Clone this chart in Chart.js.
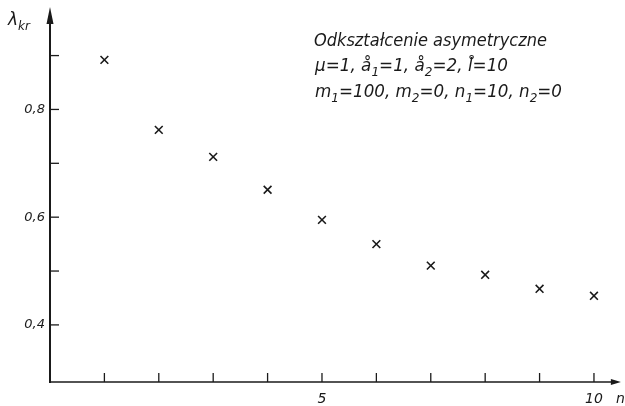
<!DOCTYPE html>
<html><head><meta charset="utf-8">
<script src="https://cdn.jsdelivr.net/npm/chart.js@4/dist/chart.umd.min.js"></script>
<style>html,body{margin:0;padding:0;background:#fff;}#wrap{width:625px;height:406px;}</style>
</head><body><div id="wrap"><canvas id="c" width="625" height="406"></canvas></div>
<script>
// ---- data ----
const nValues = [1, 2, 3, 4, 5, 6, 7, 8, 9, 10];
const lambdaKr = [0.892, 0.762, 0.712, 0.651, 0.595, 0.550, 0.510, 0.493, 0.467, 0.454];
const yTickValues = [0.4, 0.5, 0.6, 0.7, 0.8, 0.9];
const yTickLabels = ['0,4', '', '0,6', '', '0,8', ''];
const xTickValues = [1, 2, 3, 4, 5, 6, 7, 8, 9, 10];
const xTickLabels = ['', '', '', '', '5', '', '', '', '', '10'];
const yTitleMain = 'λ';
const yTitleSub = 'kr';
const xTitle = 'n';
const noteLines = [
  [['Odkształcenie asymetryczne', 0]],
  [['μ=1, å', 0], ['1', 1], ['=1, å', 0], ['2', 1], ['=2, l̊=10', 0]],
  [['m', 0], ['1', 1], ['=100, m', 0], ['2', 1], ['=0, n', 0], ['1', 1], ['=10, n', 0], ['2', 1], ['=0', 0]]
];

const FAM = "'DejaVu Sans', 'Liberation Sans', sans-serif";
const INK = '#1a1a1a';

function drawRich(ctx, runs, x, y, size, targetW) {
  const subSize = Math.round(size * 0.72);
  let total = 0;
  const widths = runs.map(([t, sub]) => {
    ctx.font = 'italic ' + (sub ? subSize : size) + 'px ' + FAM;
    const w = ctx.measureText(t).width; total += w; return w;
  });
  const sx = targetW ? targetW / total : 1;
  ctx.save();
  ctx.translate(x, y);
  ctx.scale(sx, 1);
  let cx = 0;
  runs.forEach(([t, sub], i) => {
    ctx.font = 'italic ' + (sub ? subSize : size) + 'px ' + FAM;
    ctx.fillText(t, cx, sub ? size * 0.28 : 0);
    cx += widths[i];
  });
  ctx.restore();
}

const axesPlugin = {
  id: 'axesPlugin',
  afterDraw(chart) {
    const ctx = chart.ctx;
    const xs = chart.scales.x, ys = chart.scales.y;
    const x0 = xs.getPixelForValue(0);
    const yb = ys.getPixelForValue(ys.min);
    const yt = ys.getPixelForValue(ys.max);
    const xr = xs.getPixelForValue(xs.max);
    ctx.save();
    ctx.strokeStyle = INK; ctx.fillStyle = INK;
    // y axis
    ctx.lineWidth = 2;
    ctx.beginPath(); ctx.moveTo(x0, yb + 1); ctx.lineTo(x0, yt + 12); ctx.stroke();
    ctx.beginPath(); ctx.moveTo(x0, yt); ctx.lineTo(x0 - 3.5, yt + 17); ctx.lineTo(x0 + 3.5, yt + 17); ctx.closePath(); ctx.fill();
    // x axis
    ctx.lineWidth = 1.6;
    ctx.beginPath(); ctx.moveTo(x0 - 1, yb); ctx.lineTo(xr - 4, yb); ctx.stroke();
    ctx.beginPath(); ctx.moveTo(xr + 3, yb); ctx.lineTo(xr - 7, yb - 3); ctx.lineTo(xr - 7, yb + 3); ctx.closePath(); ctx.fill();
    // ticks (inside)
    ctx.lineWidth = 1.3;
    ys.ticks.forEach(t => {
      const p = ys.getPixelForValue(t.value);
      ctx.beginPath(); ctx.moveTo(x0, p); ctx.lineTo(x0 + 9, p); ctx.stroke();
    });
    xs.ticks.forEach(t => {
      const p = xs.getPixelForValue(t.value);
      ctx.beginPath(); ctx.moveTo(p, yb); ctx.lineTo(p, yb - 9); ctx.stroke();
    });
    // axis titles
    ctx.textBaseline = 'alphabetic';
    drawRich(ctx, [[yTitleMain, 0], [yTitleSub, 1]], 8, 25, 17, 0);
    ctx.font = 'italic 14px ' + FAM;
    ctx.fillText(xTitle, 616, 403);
    // annotation
    drawRich(ctx, noteLines[0], 314, 46, 18, 233);
    drawRich(ctx, noteLines[1], 315, 71, 18, 193);
    drawRich(ctx, noteLines[2], 315, 97, 18, 247);
    ctx.restore();
  }
};

new Chart(document.getElementById('c'), {
  type: 'scatter',
  data: {
    datasets: [{
      data: nValues.map((n, i) => ({ x: n, y: lambdaKr[i] })),
      pointStyle: 'crossRot', pointRadius: 5.5, pointHoverRadius: 5.5,
      borderColor: INK, backgroundColor: INK, borderWidth: 1.6, showLine: false
    }]
  },
  options: {
    responsive: false, animation: false, devicePixelRatio: 1,
    layout: { padding: { top: 7, right: 7, left: 0, bottom: 0 } },
    plugins: { legend: { display: false }, tooltip: { enabled: false } },
    scales: {
      x: {
        type: 'linear', min: 0, max: 10.44,
        afterBuildTicks: s => { s.ticks = xTickValues.map(v => ({ value: v })); },
        afterFit: s => { s.height = 24; s.paddingLeft = 0; s.paddingRight = 0; },
        grid: { display: false, drawTicks: false }, border: { display: false },
        ticks: { autoSkip: false, maxRotation: 0, minRotation: 0, padding: 9, color: INK,
          font: { family: FAM, style: 'italic', size: 14 }, callback: (v, i) => xTickLabels[i] }
      },
      y: {
        type: 'linear', min: 0.294, max: 0.99,
        afterBuildTicks: s => { s.ticks = yTickValues.map(v => ({ value: v })); },
        afterFit: s => { s.width = 50; s.paddingTop = 0; s.paddingBottom = 0; },
        grid: { display: false, drawTicks: false }, border: { display: false },
        ticks: { autoSkip: false, padding: 5, color: INK,
          font: { family: FAM, style: 'italic', size: 13 }, callback: (v, i) => yTickLabels[i] }
      }
    }
  },
  plugins: [axesPlugin]
});
</script>
</body></html>
